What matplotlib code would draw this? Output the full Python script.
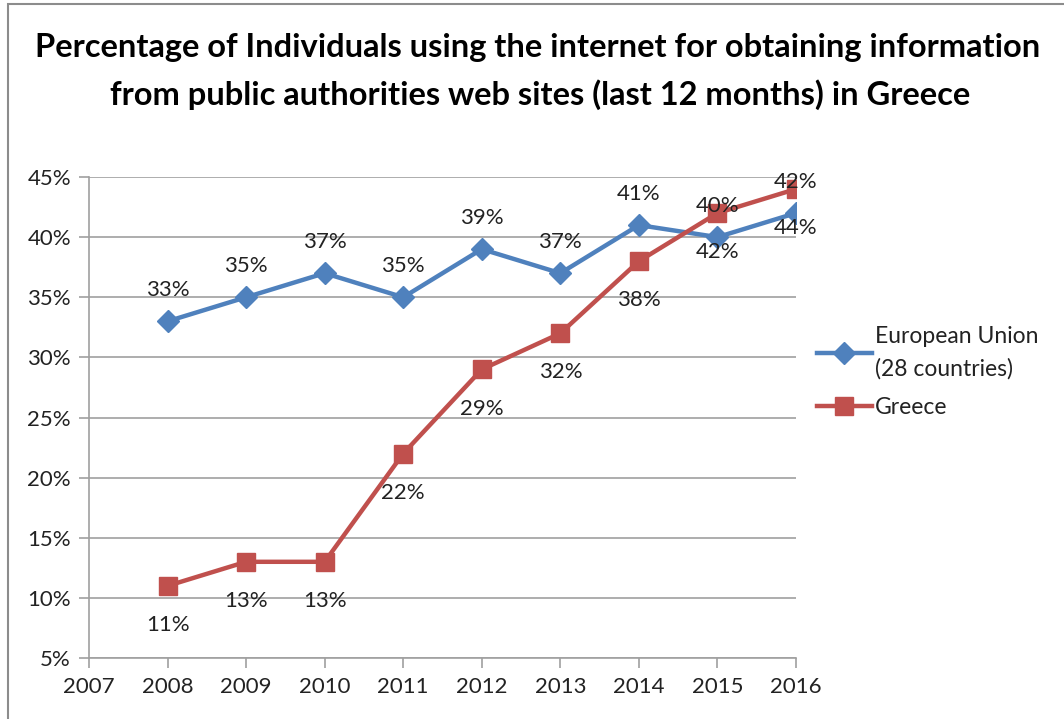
import matplotlib.pyplot as plt
from matplotlib.patches import Rectangle
from matplotlib.ticker import FuncFormatter

years = [2008, 2009, 2010, 2011, 2012, 2013, 2014, 2015, 2016]
eu = [33, 35, 37, 35, 39, 37, 41, 40, 42]
greece = [11, 13, 13, 22, 29, 32, 38, 42, 44]

blue = '#4F81BD'
red = '#C0504D'
grid_col = '#A0A0A0'

plt.rcParams['font.family'] = ['Lato', 'DejaVu Sans']

fig = plt.figure(figsize=(10.64, 7.19), dpi=100)

# outer chart frame (only left and top edges are visible)
fig.patches.append(Rectangle((8 / 1064, -0.1), 1.2, 1 - 4 / 719 + 0.1,
                             transform=fig.transFigure, fill=False,
                             edgecolor='#8C8C8C', linewidth=1.5))

ax = fig.add_axes([89 / 1064, 1 - 658 / 719, (796 - 89) / 1064, (658 - 177) / 719])

fig.text(538 / 1064, 1 - 48 / 719, 'Percentage of Individuals using the internet for obtaining information',
         ha='center', va='center', fontsize=23.5, fontweight='bold', color='black')
fig.text(540 / 1064, 1 - 95 / 719, 'from public authorities web sites (last 12 months) in Greece',
         ha='center', va='center', fontsize=23.5, fontweight='bold', color='black')

ax.plot(years, eu, color=blue, lw=3.2, marker='D', ms=11, mec=blue, mfc=blue,
        label='European Union\n(28 countries)', zorder=3)
ax.plot(years, greece, color=red, lw=3.2, marker='s', ms=13.5, mec=red, mfc=red,
        label='Greece', zorder=3)

for x, v in zip(years, eu):
    ax.annotate(f'{v}%', (x, v), xytext=(0, 15), textcoords='offset points',
                ha='center', va='bottom', fontsize=16, color='#222222', zorder=4)
for x, v in zip(years, greece):
    ax.annotate(f'{v}%', (x, v), xytext=(0, -21), textcoords='offset points',
                ha='center', va='top', fontsize=16, color='#222222', zorder=4)

ax.set_xlim(2007, 2016)
ax.set_ylim(5, 45)
ax.set_xticks(range(2007, 2017))
ax.set_yticks(range(5, 50, 5))
ax.yaxis.set_major_formatter(FuncFormatter(lambda v, p: f'{int(v)}%'))
ax.yaxis.grid(True, color=grid_col, lw=1.2)
ax.set_axisbelow(True)

for s in ['top', 'right']:
    ax.spines[s].set_visible(False)
for s in ['left', 'bottom']:
    ax.spines[s].set_color(grid_col)
    ax.spines[s].set_linewidth(1.2)
ax.tick_params(axis='both', colors=grid_col, width=1.2, length=7, labelsize=16,
               labelcolor='#222222')
ax.tick_params(axis='x', pad=7)
ax.tick_params(axis='y', pad=6)

leg = ax.legend(loc='center left', bbox_to_anchor=(1.0, 0.595), frameon=False,
                fontsize=16.5, handlelength=2.4, labelspacing=0.75, handletextpad=0.15)
for t in leg.get_texts():
    t.set_color('#222222')
    t.set_linespacing(1.65)

fig.savefig('out.png', dpi=100)
